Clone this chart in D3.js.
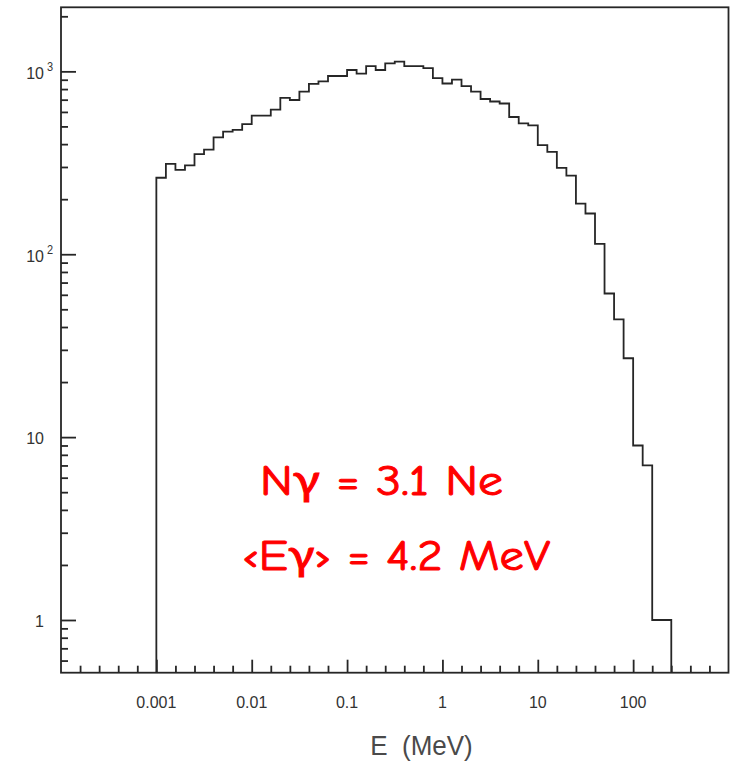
<!DOCTYPE html>
<html>
<head>
<meta charset="utf-8">
<script src="https://cdn.jsdelivr.net/npm/d3@7/dist/d3.min.js"></script>
<style>
  html, body { margin: 0; padding: 0; background: #fff; }
  svg { display: block; }
</style>
</head>
<body>
<svg id="chart" width="731" height="763"></svg>
<script>
// Photon energy spectrum: counts per bin, 10 log-spaced bins per decade starting at 1 keV
const binStart = 0.001;        // MeV, lower edge of the first bin
const binsPerDecade = 10;
const counts = [
  262, 312, 289, 306, 353, 373, 436, 468, 479, 515,
  573, 573, 618, 717, 697, 774, 855, 882, 943, 943,
  1017, 973, 1069, 1017, 1106, 1131, 1069, 1069, 1042, 919,
  858, 900, 831, 774, 706, 684, 667, 563, 520, 507,
  395, 363, 297, 269, 189, 167, 114, 61, 44, 27,
  9, 7, 1, 1
];

// Axis ticks and labels
const xMajor = [0.001, 0.01, 0.1, 1, 10, 100];
const xLabels = ["0.001", "0.01", "0.1", "1", "10", "100"];
const yMajor = [1, 10, 100, 1000];
const yLabelBase = ["1", "10", "10", "10"];
const yLabelExp = ["", "", "2", "3"];
const xTitle = "E  (MeV)";
const noteLines = ["N\u03B3 = 3.1 Ne", "\u2039E\u03B3\u203A = 4.2 MeV"];

const svg = d3.select("#chart");
const ink = "#262626";
const lw = 1.8;
const frame = { left: 61, right: 728.5, top: 7.3, bottom: 672.7 };

const x = d3.scaleLog().domain([1e-4, 1e3]).range([frame.left, frame.right]);
const y = d3.scaleLog().domain([0.515, 2240]).range([frame.bottom, frame.top]);

// Bin edges
const edges = d3.range(counts.length + 1).map(k => binStart * Math.pow(10, k / binsPerDecade));

// Minor ticks: x every fifth of a decade, y at 2..9 within each decade
const xMinor = [];
for (let d = -4; d < 3; d++) for (let j = 1; j < 5; j++) xMinor.push(Math.pow(10, d + j / 5));
const yMinor = [];
for (let d = -1; d < 4; d++) for (let m = 2; m <= 9; m++) {
  const v = m * Math.pow(10, d);
  if (v > y.domain()[0] && v < y.domain()[1]) yMinor.push(v);
}

// Axes (ticks pointing inward)
function styleAxis(g) {
  g.select(".domain").remove();
  g.selectAll("line").attr("stroke", ink).attr("stroke-width", lw);
  g.selectAll("text").remove();
}
svg.append("g").attr("transform", `translate(0,${frame.bottom})`)
  .call(d3.axisBottom(x).tickValues(xMinor).tickSizeInner(-7).tickSizeOuter(0))
  .call(styleAxis);
svg.append("g").attr("transform", `translate(0,${frame.bottom})`)
  .call(d3.axisBottom(x).tickValues(xMajor).tickSizeInner(-13).tickSizeOuter(0))
  .call(styleAxis);
svg.append("g").attr("transform", `translate(${frame.left},0)`)
  .call(d3.axisLeft(y).tickValues(yMinor).tickSizeInner(-7).tickSizeOuter(0))
  .call(styleAxis);
svg.append("g").attr("transform", `translate(${frame.left},0)`)
  .call(d3.axisLeft(y).tickValues(yMajor).tickSizeInner(-15).tickSizeOuter(0))
  .call(styleAxis);

// Frame
svg.append("rect")
  .attr("x", frame.left).attr("y", frame.top)
  .attr("width", frame.right - frame.left).attr("height", frame.bottom - frame.top)
  .attr("fill", "none").attr("stroke", ink).attr("stroke-width", lw);

// Histogram outline
const pts = [[edges[0], y.domain()[0]]];
counts.forEach((c, i) => { pts.push([edges[i], c]); pts.push([edges[i + 1], c]); });
pts.push([edges[counts.length], y.domain()[0]]);
svg.append("path")
  .attr("d", d3.line().x(d => x(d[0])).y(d => y(d[1]))(pts))
  .attr("fill", "none").attr("stroke", ink).attr("stroke-width", lw)
  .attr("stroke-linejoin", "miter");

// Tick labels (slightly tall letterforms)
const labelFont = "'Liberation Sans', Arial, Helvetica, sans-serif";
const stretch = 1.08;
xMajor.forEach((v, i) => {
  svg.append("text")
    .attr("transform", `translate(${x(v)},707.5) scale(1,${stretch})`)
    .attr("text-anchor", "middle")
    .attr("font-family", labelFont).attr("font-size", 16)
    .attr("fill", "#333").text(xLabels[i]);
});
yMajor.forEach((v, i) => {
  const ty = y(v);
  svg.append("text")
    .attr("transform", `translate(44,${ty + 7.3}) scale(1,${stretch})`)
    .attr("text-anchor", "end")
    .attr("font-family", labelFont).attr("font-size", 16)
    .attr("fill", "#333").text(yLabelBase[i]);
  if (yLabelExp[i]) {
    svg.append("text")
      .attr("transform", `translate(47,${ty - 0.5}) scale(1,${stretch})`)
      .attr("font-family", labelFont).attr("font-size", 11)
      .attr("fill", "#333").text(yLabelExp[i]);
  }
});

// Axis title
svg.append("text")
  .attr("transform", `translate(421.5,755) scale(1,${stretch})`)
  .attr("text-anchor", "middle")
  .attr("font-family", labelFont).attr("font-size", 26)
  .attr("fill", "#4a4a4a")
  .attr("xml:space", "preserve")
  .style("white-space", "pre")
  .text(xTitle);

// Annotation
const noteFont = "'Comic Sans MS', 'Comic Neue', Lato, 'Open Sans', sans-serif";
const notePos = [
  { x: 260, y: 495, w: 243 },
  { x: 242, y: 570, w: 308 }
];
noteLines.forEach((t, i) => {
  svg.append("text")
    .attr("x", notePos[i].x).attr("y", notePos[i].y)
    .attr("font-family", noteFont).attr("font-size", 43)
    .attr("fill", "#ff0000")
    .attr("stroke", "#ff0000").attr("stroke-width", 1)
    .attr("textLength", notePos[i].w).attr("lengthAdjust", "spacingAndGlyphs")
    .text(t);
});
</script>
</body>
</html>
